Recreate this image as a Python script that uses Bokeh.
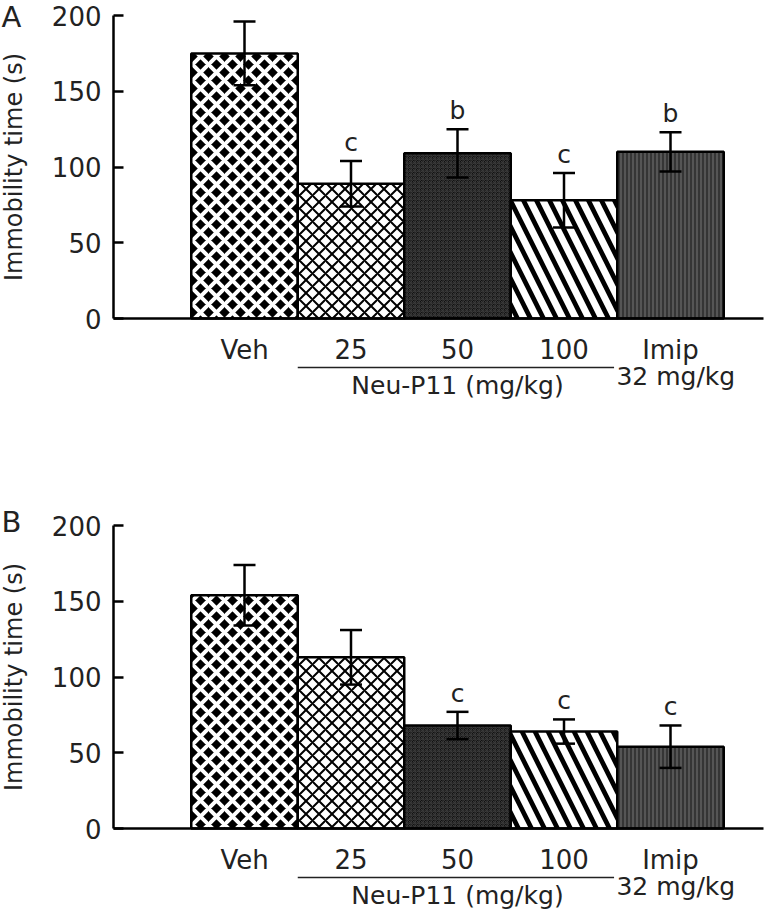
from math import pi
from bokeh.plotting import figure
from bokeh.models import (ColumnDataSource, Whisker, TeeHead, Label, Arrow,
                          FixedTicker, Range1d)
from bokeh.layouts import column
from bokeh.embed import file_html
from bokeh.resources import INLINE
from bokeh.core.properties import value, field

# ---------------- data ----------------
groups = ["Veh", "25", "50", "100", "Imip"]
group_x = [1, 2, 3, 4, 5]
means_a = [175, 89, 109, 78, 110]
sems_a = [21, 15, 16, 18, 13]
letters_a = ["", "c", "b", "c", "b"]
means_b = [154, 113, 68, 64, 54]
sems_b = [20, 18, 9, 8, 14]
letters_b = ["", "", "c", "c", "c"]
y_ticks = [0, 50, 100, 150, 200]
group_title = "Neu-P11 (mg/kg)"
imip_dose = "32 mg/kg"
y_title = "Immobility time (s)"

# ---------------- styles ----------------
fills = ["black", "white", "#111111", "white", "#555555"]
hatches = ["diagonal_cross", "diagonal_cross", "criss_cross",
           "left_diagonal_line", "vertical_line"]
hatch_colors = ["white", "black", "#3a3a3a", "black", "#2a2a2a"]
hatch_weights = [4, 2, 1, 4.8, 1.5]
hatch_scales = [16, 13, 4, 26, 4]

FONT = "DejaVu Sans"
TXT = "#222222"

# ---------------- layout (pixels) ----------------
W = 768
PX_X = 106.5          # pixels per group
X0_PX = 244           # pixel column of group 1
PX_Y = 1.515          # pixels per second


def xr():
    return Range1d(1 - X0_PX / PX_X, 1 + (W - X0_PX) / PX_X)


def panel(letter, means, sems, letters, height, zero_px, letter_y):
    src = ColumnDataSource(dict(
        x=group_x, top=means,
        upper=[m + s for m, s in zip(means, sems)],
        lower=[m - s for m, s in zip(means, sems)],
        letter=letters, fill=fills, hatch=hatches, hc=hatch_colors,
        hw=hatch_weights, hs=hatch_scales))
    p = figure(width=W, height=height,
               x_range=xr(),
               y_range=Range1d(-(height - zero_px) / PX_Y, zero_px / PX_Y),
               output_backend="svg", toolbar_location=None,
               min_border=0, min_border_left=0, min_border_right=0,
               min_border_top=0, min_border_bottom=0)
    p.vbar(x="x", top="top", bottom=0, width=1.0, source=src,
           fill_color=field("fill"), line_color="black", line_width=2.5,
           hatch_pattern=field("hatch"), hatch_color=field("hc"),
           hatch_weight=field("hw"), hatch_scale=field("hs"))
    head_u = TeeHead(size=22, line_width=2.5, line_color="black")
    head_l = TeeHead(size=22, line_width=2.5, line_color="black")
    p.add_layout(Whisker(source=src, base="x", upper="upper", lower="lower",
                         line_width=2.5, line_color="black",
                         upper_head=head_u, lower_head=head_l, level="overlay"))
    p.text(x="x", y="upper", text="letter", source=src,
           text_font=value(FONT), text_font_size="25px", text_color=TXT,
           text_align="center", text_baseline="bottom", y_offset=-4)

    y_axis_x = 1 - (X0_PX - 113) / PX_X
    x_axis_end = 1 + (763 - X0_PX) / PX_X

    # axes
    p.xaxis.fixed_location = 0
    p.xaxis.bounds = (y_axis_x, x_axis_end)
    p.xaxis.ticker = FixedTicker(ticks=group_x)
    p.xaxis.major_label_overrides = {x: g for x, g in zip(group_x, groups)}
    p.xaxis.major_tick_line_color = None
    p.xaxis.minor_tick_line_color = None
    p.xaxis.axis_line_width = 2.5
    p.xaxis.axis_line_color = "black"
    p.xaxis.major_label_standoff = 10
    p.xaxis.major_label_text_font = FONT
    p.xaxis.major_label_text_font_size = "26px"
    p.xaxis.major_label_text_color = TXT

    p.yaxis.fixed_location = y_axis_x
    p.yaxis.bounds = (0, 200)
    p.yaxis.ticker = FixedTicker(ticks=y_ticks)
    p.yaxis.major_tick_in = 10
    p.yaxis.major_tick_out = 0
    p.yaxis.major_tick_line_width = 2.5
    p.yaxis.major_tick_line_color = "black"
    p.yaxis.minor_tick_line_color = None
    p.yaxis.axis_line_width = 2.5
    p.yaxis.axis_line_color = "black"
    p.yaxis.major_label_standoff = 12
    p.yaxis.major_label_text_font = FONT
    p.yaxis.major_label_text_font_size = "26px"
    p.yaxis.major_label_text_color = TXT

    p.xgrid.visible = False
    p.ygrid.visible = False
    p.outline_line_color = None
    p.background_fill_color = "white"
    p.border_fill_color = "white"

    # group annotations under the axis
    p.add_layout(Arrow(end=None, x_start=1.5, x_end=4.47,
                       y_start=-49 / PX_Y, y_end=-49 / PX_Y,
                       line_width=1.5, line_color=TXT))
    p.add_layout(Label(x=3, y=-67 / PX_Y, text=group_title, text_align="center",
                       text_baseline="middle", text_font=FONT,
                       text_font_size="25px", text_color=TXT))
    p.add_layout(Label(x=5.05, y=-58 / PX_Y, text=imip_dose, text_align="center",
                       text_baseline="middle", text_font=FONT,
                       text_font_size="25px", text_color=TXT))
    p.add_layout(Label(x=1 - (X0_PX - 13) / PX_X, y=100, text=y_title, angle=pi / 2,
                       text_align="center", text_baseline="middle",
                       text_font=FONT, text_font_size="24px", text_color=TXT))
    p.add_layout(Label(x=1 - (X0_PX - 1) / PX_X, y=letter_y, text=letter,
                       text_align="left", text_baseline="middle", text_font=FONT,
                       text_font_size="29px", text_color=TXT))
    return p


pA = panel("A", means_a, sems_a, letters_a, 456, 318, 199)
pB = panel("B", means_b, sems_b, letters_b, 454, 372, 202)

layout = column(pA, pB, spacing=0)
open("out.html", "w").write(file_html(layout, INLINE))
